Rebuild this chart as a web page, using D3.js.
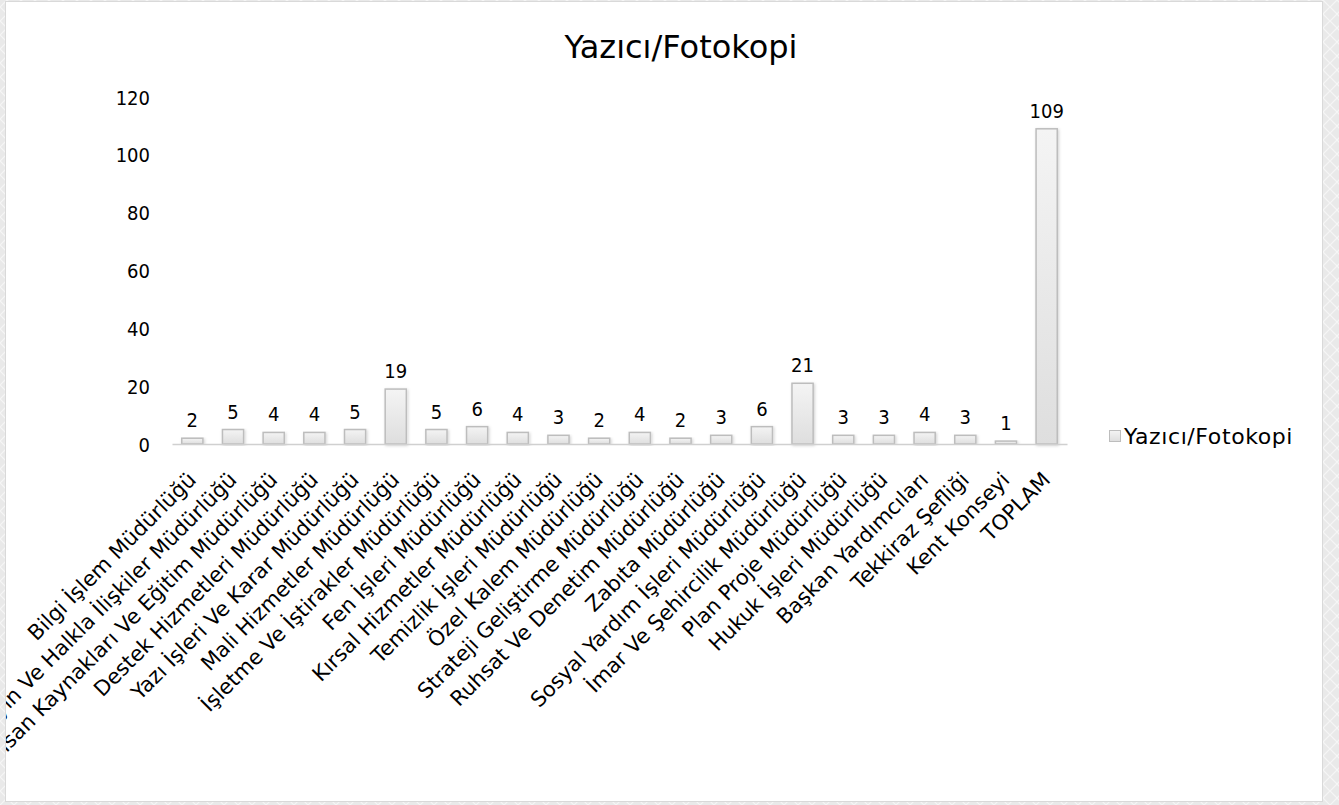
<!DOCTYPE html>
<html>
<head>
<meta charset="utf-8">
<script src="https://cdn.jsdelivr.net/npm/d3@7"></script>
<style>
  html, body { margin: 0; padding: 0; background: #fff; }
  svg { display: block; }
  text { font-family: "DejaVu Sans", sans-serif; fill: #000; }
</style>
</head>
<body>
<svg id="chart" width="1339" height="805"></svg>
<script>
var categories = [
    "Bilgi İşlem Müdürlüğü",
    "Basın Yayın Ve Halkla İlişkiler Müdürlüğü",
    "İnsan Kaynakları Ve Eğitim Müdürlüğü",
    "Destek Hizmetleri Müdürlüğü",
    "Yazı İşleri Ve Karar Müdürlüğü",
    "Mali Hizmetler Müdürlüğü",
    "İşletme Ve İştirakler Müdürlüğü",
    "Fen İşleri Müdürlüğü",
    "Kırsal Hizmetler Müdürlüğü",
    "Temizlik İşleri Müdürlüğü",
    "Özel Kalem Müdürlüğü",
    "Strateji Geliştirme Müdürlüğü",
    "Ruhsat Ve Denetim Müdürlüğü",
    "Zabıta Müdürlüğü",
    "Sosyal Yardım İşleri Müdürlüğü",
    "İmar Ve Şehircilik Müdürlüğü",
    "Plan Proje Müdürlüğü",
    "Hukuk İşleri Müdürlüğü",
    "Başkan Yardımcıları",
    "Tekkiraz Şefliği",
    "Kent Konseyi",
    "TOPLAM"
];
var values = [2, 5, 4, 4, 5, 19, 5, 6, 4, 3, 2, 4, 2, 3, 6, 21, 3, 3, 4, 3, 1, 109];
var yTicks = [0, 20, 40, 60, 80, 100, 120];
var seriesName = "Yazıcı/Fotokopi";
var chartTitle = "Yazıcı/Fotokopi";

var svg = d3.select("#chart");
var W = 1339, H = 805;

// ##### background pattern + white frame #####
var defs = svg.append("defs");
var pat = defs.append("pattern")
    .attr("id", "diamonds")
    .attr("width", 14).attr("height", 14)
    .attr("patternUnits", "userSpaceOnUse");
pat.append("rect").attr("width", 14).attr("height", 14).attr("fill", "#e9e9e9");
pat.append("path")
    .attr("d", "M0,7 L7,0 L14,7 L7,14 Z")
    .attr("fill", "none").attr("stroke", "#f6f6f6").attr("stroke-width", 1.2);

var grad = defs.append("linearGradient")
    .attr("id", "barGrad")
    .attr("x1", "0%").attr("y1", "0%")
    .attr("x2", "0%").attr("y2", "100%");
grad.append("stop").attr("offset", "0%").attr("stop-color", "#f4f4f4");
grad.append("stop").attr("offset", "100%").attr("stop-color", "#dedede");

var shadow = defs.append("filter").attr("id", "shadow")
    .attr("x", "-50%").attr("y", "-10%").attr("width", "200%").attr("height", "120%");
shadow.append("feDropShadow")
    .attr("dx", 1).attr("dy", 1).attr("stdDeviation", 1.5)
    .attr("flood-color", "#000").attr("flood-opacity", 0.18);

// the long labels run past the left edge of the frame, as in the original
defs.append("clipPath").attr("id", "frameClip")
    .append("rect").attr("x", 6).attr("y", 2).attr("width", 1316).attr("height", 799);

svg.append("rect").attr("width", W).attr("height", H).attr("fill", "url(#diamonds)");
svg.append("rect")
    .attr("x", 5.5).attr("y", 1.5).attr("width", 1317).attr("height", 800)
    .attr("fill", "#fff").attr("stroke", "#d9d9d9").attr("stroke-width", 1);

var g = svg.append("g").attr("clip-path", "url(#frameClip)");

// ##### scales #####
var x = d3.scaleBand()
    .domain(categories)
    .range([172, 1067])
    .paddingInner(0.48)
    .paddingOuter(0.24);

var y = d3.scaleLinear()
    .domain([0, 120])
    .range([444, 97]);

// ##### title #####
g.append("text")
    .attr("x", 681).attr("y", 58)
    .attr("text-anchor", "middle")
    .style("font-size", "32px")
    .text(chartTitle);

// ##### y axis #####
var yAxis = d3.axisLeft(y).tickValues(yTicks).tickSize(0).tickPadding(0);
var yg = g.append("g").attr("transform", "translate(150,0)").call(yAxis);
yg.select(".domain").remove();
yg.selectAll("text")
    .style("font-size", "20px")
    .style("font-family", "'DejaVu Sans Condensed', 'DejaVu Sans', sans-serif")
    .attr("dy", "0.35em");

// ##### bars #####
g.selectAll(".bar")
    .data(values)
    .enter().append("rect")
    .attr("class", "bar")
    .attr("x", function(d, i) { return x(categories[i]); })
    .attr("y", function(d) { return y(d); })
    .attr("width", x.bandwidth())
    .attr("height", function(d) { return y(0) - y(d); })
    .attr("fill", "url(#barGrad)")
    .attr("stroke", "#bdbdbd")
    .attr("stroke-width", 1.5)
    .attr("filter", "url(#shadow)");

// value labels
g.selectAll(".val")
    .data(values)
    .enter().append("text")
    .attr("class", "val")
    .attr("x", function(d, i) { return x(categories[i]) + x.bandwidth() / 2; })
    .attr("y", function(d) { return y(d) - 11; })
    .attr("text-anchor", "middle")
    .style("font-size", "20px")
    .style("font-family", "'DejaVu Sans Condensed', 'DejaVu Sans', sans-serif")
    .text(function(d) { return d; });

// ##### x axis #####
var xAxis = d3.axisBottom(x).tickSize(0).tickPadding(0);
var xg = g.append("g").attr("transform", "translate(0," + y(0) + ")").call(xAxis);
xg.select(".domain").attr("stroke", "#d0d0d0").attr("stroke-width", 1.5);
xg.selectAll("text")
    .style("font-size", "21px")
    .style("font-family", "'DejaVu Sans', sans-serif")
    .attr("text-anchor", "end")
    .attr("dy", null)
    .attr("transform", "translate(5,37) rotate(-45)");

// ##### legend #####
var lg = g.append("g").attr("transform", "translate(1109,430)");
lg.append("rect")
    .attr("x", 0.5).attr("y", 0.5).attr("width", 11).attr("height", 11)
    .attr("fill", "url(#barGrad)").attr("stroke", "#bdbdbd").attr("stroke-width", 1);
lg.append("text")
    .attr("x", 15).attr("y", 14)
    .style("font-size", "22px")
    .style("letter-spacing", "0.6px")
    .text(seriesName);
</script>
</body>
</html>
